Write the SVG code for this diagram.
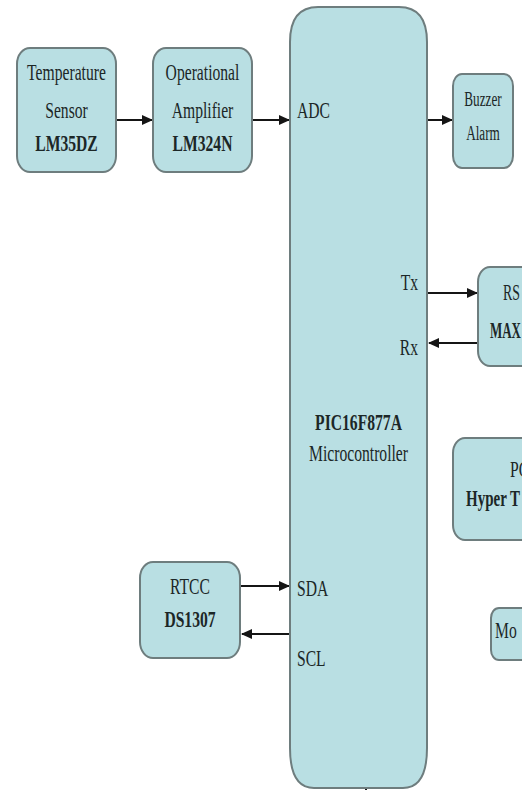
<svg xmlns="http://www.w3.org/2000/svg" width="522" height="790" viewBox="0 0 522 790">
<style>
.box{fill:#b9dfe3;stroke:#6e7d7e;stroke-width:2}
.t{font-family:"Liberation Serif","Times New Roman",serif;font-size:23px;fill:#1c2727;text-anchor:middle}
.s{font-family:"Liberation Serif","Times New Roman",serif;font-size:23px;fill:#1c2727;text-anchor:start}
.b{font-weight:bold}
.sm{font-size:20px}
.ln{stroke:#151515;stroke-width:2;fill:none}
</style>
<defs>
<marker id="ah" markerWidth="11" markerHeight="10" refX="10" refY="5" orient="auto" markerUnits="userSpaceOnUse">
<path d="M0,0 L11,5 L0,10 Z" fill="#151515"/>
</marker>
</defs>
<rect width="522" height="790" fill="#ffffff"/>

<g id="connectors">
<path class="ln" d="M116,120 H152" marker-end="url(#ah)"/>
<path class="ln" d="M252,120 H289" marker-end="url(#ah)"/>
<path class="ln" d="M427,120 H452" marker-end="url(#ah)"/>
<path class="ln" d="M427,293 H477" marker-end="url(#ah)"/>
<path class="ln" d="M478,343 H429" marker-end="url(#ah)"/>
<path class="ln" d="M240,586 H289" marker-end="url(#ah)"/>
<path class="ln" d="M290,634 H242" marker-end="url(#ah)"/>
<path class="ln" d="M366,800 V789" marker-end="url(#ah)"/>
</g>

<g id="temp-sensor">
<rect class="box" x="17" y="48" width="99" height="124" rx="13" ry="16"/>
<text class="t" transform="translate(66.5,80) scale(0.68,1)">Temperature</text>
<text class="t" transform="translate(66.5,118) scale(0.68,1)">Sensor</text>
<text class="t b" transform="translate(66.5,151) scale(0.68,1)">LM35DZ</text>
</g>

<g id="op-amp">
<rect class="box" x="153" y="48" width="99" height="124" rx="13" ry="16"/>
<text class="t" transform="translate(202.5,80) scale(0.68,1)">Operational</text>
<text class="t" transform="translate(202.5,118) scale(0.68,1)">Amplifier</text>
<text class="t b" transform="translate(202.5,151) scale(0.68,1)">LM324N</text>
</g>

<g id="microcontroller">
<path class="box" d="M318,7 H399 Q427,7 427,42 V748 Q427,788 403,788 H314 Q290,788 290,748 V42 Q290,7 318,7 Z"/>
<text class="s" transform="translate(297,118) scale(0.68,1)">ADC</text>
<text class="t" style="text-anchor:end" transform="translate(418,290) scale(0.68,1)">Tx</text>
<text class="t" style="text-anchor:end" transform="translate(418,355) scale(0.68,1)">Rx</text>
<text class="t b" transform="translate(358.5,430) scale(0.68,1)">PIC16F877A</text>
<text class="t" transform="translate(358.5,461) scale(0.68,1)">Microcontroller</text>
<text class="s" transform="translate(297,596) scale(0.68,1)">SDA</text>
<text class="s" transform="translate(297,666) scale(0.68,1)">SCL</text>
</g>

<g id="buzzer">
<rect class="box" x="453" y="74" width="60" height="94" rx="9" ry="12"/>
<text class="t sm" transform="translate(483,106) scale(0.66,1)">Buzzer</text>
<text class="t sm" transform="translate(483,140) scale(0.66,1)">Alarm</text>
</g>

<g id="rs232">
<rect class="box" x="478" y="267" width="80" height="99" rx="12" ry="15"/>
<text class="s" x="503" y="300" textLength="17" lengthAdjust="spacingAndGlyphs">RS</text>
<text class="s b" x="490" y="338" textLength="31" lengthAdjust="spacingAndGlyphs">MAX</text>
</g>

<g id="pc">
<rect class="box" x="453" y="438" width="110" height="102" rx="12" ry="15"/>
<text class="s" transform="translate(510,477) scale(0.68,1)">PC</text>
<text class="s b" x="466" y="506" textLength="54" lengthAdjust="spacingAndGlyphs">Hyper T</text>
</g>

<g id="modem">
<rect class="box" x="491" y="608" width="60" height="52" rx="8" ry="10"/>
<text class="s" transform="translate(495,638) scale(0.68,1)">Mo</text>
</g>

<g id="rtcc">
<rect class="box" x="140" y="562" width="100" height="96" rx="13" ry="16"/>
<text class="t" transform="translate(190,594) scale(0.68,1)">RTCC</text>
<text class="t b" transform="translate(190,627) scale(0.68,1)">DS1307</text>
</g>
</svg>
